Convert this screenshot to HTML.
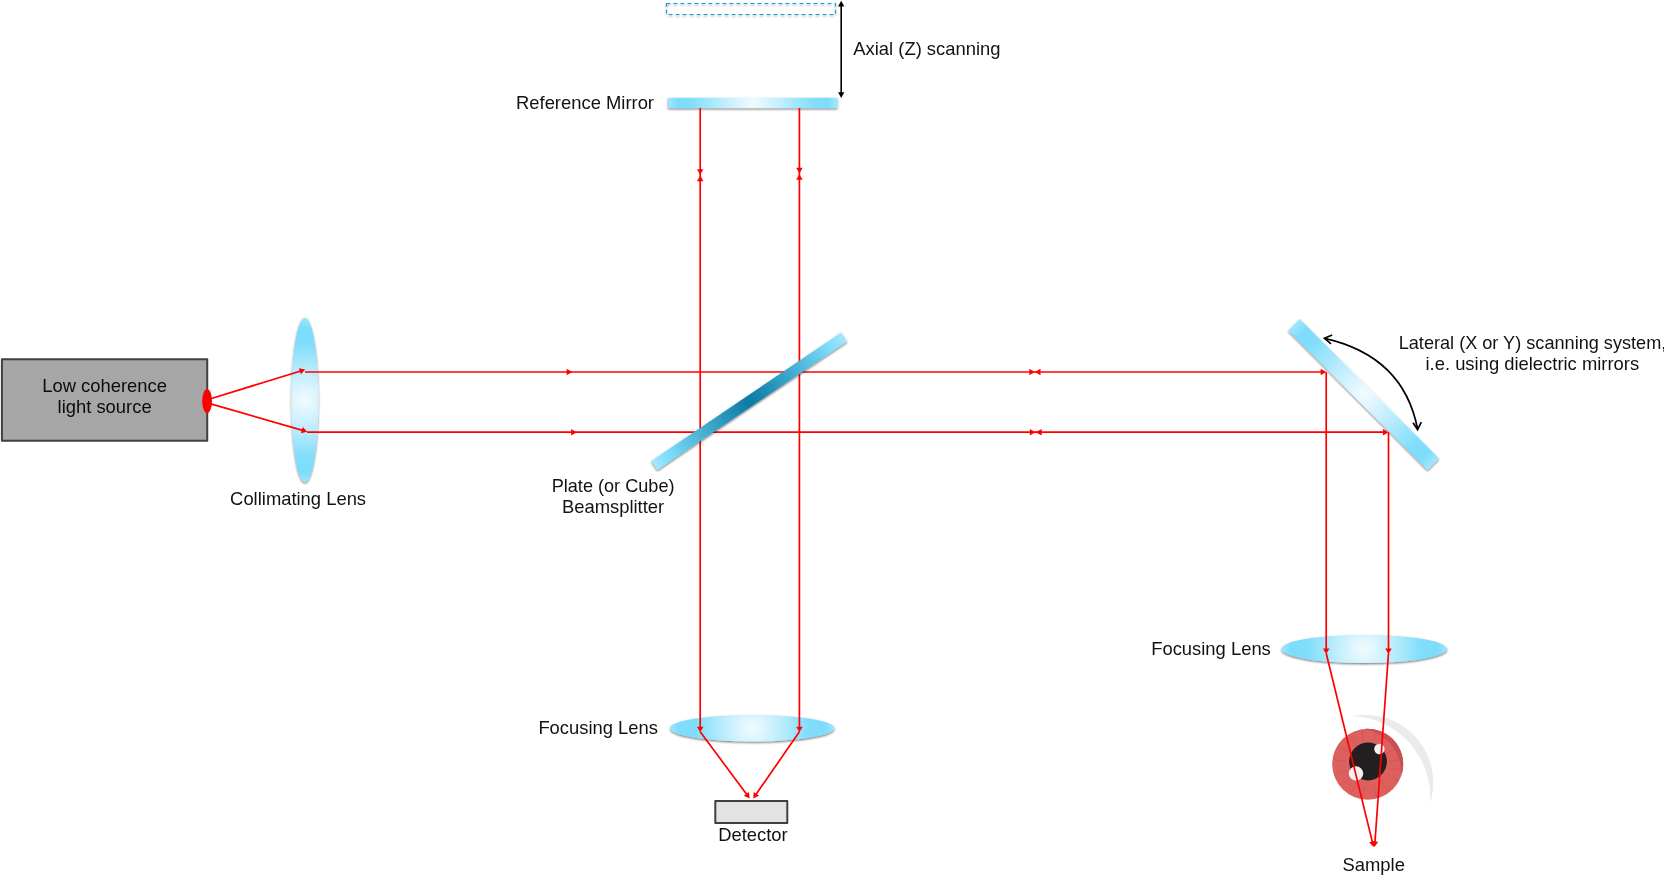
<!DOCTYPE html>
<html><head><meta charset="utf-8"><title>OCT</title>
<style>
html,body{margin:0;padding:0;background:#fff;}
body{width:1664px;height:875px;overflow:hidden;}
svg{display:block;}
text{font-family:"Liberation Sans",sans-serif;font-size:18.4px;fill:#000;}
</style></head><body>
<svg width="1664" height="875" viewBox="0 0 1664 875">
<defs>
<filter id="sh" x="-20%" y="-20%" width="140%" height="160%"><feDropShadow dx="0" dy="1.2" stdDeviation="1" flood-color="#000" flood-opacity="0.55"/></filter>
<radialGradient id="gLensV" gradientUnits="userSpaceOnUse" cx="304.9" cy="400.6" r="82"><stop offset="0" stop-color="#f2fbff"/><stop offset="0.3" stop-color="#c6effd"/><stop offset="0.68" stop-color="#82defb"/><stop offset="0.88" stop-color="#7cdcfb"/><stop offset="1" stop-color="#9de5fc"/></radialGradient>
<radialGradient id="gLensC" gradientUnits="userSpaceOnUse" cx="752.2" cy="728.2" r="82"><stop offset="0" stop-color="#f2fbff"/><stop offset="0.3" stop-color="#c6effd"/><stop offset="0.68" stop-color="#82defb"/><stop offset="0.88" stop-color="#7cdcfb"/><stop offset="1" stop-color="#9de5fc"/></radialGradient>
<radialGradient id="gLensR" gradientUnits="userSpaceOnUse" cx="1364.2" cy="649" r="83"><stop offset="0" stop-color="#f2fbff"/><stop offset="0.3" stop-color="#c6effd"/><stop offset="0.68" stop-color="#82defb"/><stop offset="0.88" stop-color="#7cdcfb"/><stop offset="1" stop-color="#9de5fc"/></radialGradient>
<radialGradient id="gRef" gradientUnits="userSpaceOnUse" cx="752.7" cy="103" r="85"><stop offset="0" stop-color="#f2fbff"/><stop offset="0.3" stop-color="#c6effd"/><stop offset="0.72" stop-color="#82defb"/><stop offset="0.88" stop-color="#7cdcfb"/><stop offset="1" stop-color="#a4e7fc"/></radialGradient>
<radialGradient id="gMir" gradientUnits="userSpaceOnUse" cx="0" cy="0" r="98.6"><stop offset="0" stop-color="#f2fbff"/><stop offset="0.3" stop-color="#c6effd"/><stop offset="0.72" stop-color="#82defb"/><stop offset="0.88" stop-color="#7cdcfb"/><stop offset="1" stop-color="#a4e7fc"/></radialGradient>
<radialGradient id="gBS" gradientUnits="userSpaceOnUse" cx="0" cy="0" r="114.6"><stop offset="0" stop-color="#0a7aa3"/><stop offset="0.4" stop-color="#3aa5ca"/><stop offset="0.84" stop-color="#7cdcfb"/><stop offset="1" stop-color="#a6e7fc"/></radialGradient>
<filter id="sh2" x="-5%" y="-50%" width="110%" height="250%"><feDropShadow dx="0" dy="1.3" stdDeviation="0.8" flood-color="#000" flood-opacity="0.45"/></filter>
</defs>
<rect width="1664" height="875" fill="#fff"/>
<!-- source box -->
<rect x="1.9" y="359.3" width="205.35" height="81.5" fill="#a6a6a6" stroke="#404040" stroke-width="2" stroke-linejoin="round"/>
<!-- dashed mirror -->
<rect x="666.5" y="3.5" width="169" height="11" fill="none" stroke="#139fdc" stroke-width="1.1" stroke-dasharray="3.9 3.1" filter="url(#sh2)"/>
<!-- lenses -->
<g filter="url(#sh)">
<ellipse cx="304.9" cy="400" rx="13.5" ry="82.3" fill="url(#gLensV)"/>
<ellipse cx="752.2" cy="728.2" rx="82.2" ry="13.3" fill="url(#gLensC)"/>
<ellipse cx="1364.2" cy="649" rx="82.8" ry="14" fill="url(#gLensR)"/>
<rect x="668" y="97.8" width="169.5" height="10.3" fill="url(#gRef)"/>
<g transform="translate(1363.6 394.45) rotate(45)"><rect x="-98.6" y="-8.15" width="197.2" height="16.3" fill="url(#gMir)"/></g>
</g>
<!-- eye -->
<g>
<path d="M1351.4 716.3 A67.8 67.8 0 0 1 1429.9 803.6 A80.5 80.5 0 0 0 1351.4 716.3Z" fill="#ebebeb"/>
<circle cx="1367.7" cy="764.2" r="35.5" fill="#dd5f5e"/>
<path d="M1364.6 728.8 A35.5 35.5 0 0 1 1401.06 776.3 A45 45 0 0 0 1364.6 728.8Z" fill="#c9504f"/>
<g stroke="#cb5554" stroke-width="0.7" opacity="0.8"><line x1="1389.5" y1="761.1" x2="1402.4" y2="759.3"/><line x1="1386.8" y1="753.2" x2="1398.0" y2="746.7"/><line x1="1381.2" y1="746.9" x2="1389.2" y2="736.6"/><line x1="1373.4" y1="742.9" x2="1376.8" y2="730.4"/><line x1="1363.9" y1="742.5" x2="1361.6" y2="729.7"/><line x1="1356.0" y1="745.5" x2="1349.2" y2="734.5"/><line x1="1349.0" y1="752.5" x2="1338.0" y2="745.7"/><line x1="1345.9" y1="761.1" x2="1333.0" y2="759.3"/><line x1="1346.6" y1="770.3" x2="1334.1" y2="773.8"/><line x1="1350.4" y1="777.7" x2="1340.1" y2="785.7"/><line x1="1356.7" y1="783.3" x2="1350.2" y2="794.5"/><line x1="1364.6" y1="786.0" x2="1362.8" y2="798.9"/><line x1="1373.4" y1="785.5" x2="1376.8" y2="798.0"/><line x1="1381.2" y1="781.5" x2="1389.2" y2="791.8"/><line x1="1387.1" y1="774.5" x2="1398.6" y2="780.6"/><line x1="1389.4" y1="768.0" x2="1402.2" y2="770.3"/></g>
<circle cx="1368" cy="761.5" r="18.9" fill="#231f20"/>
<circle cx="1379.4" cy="749" r="5.2" fill="#f1f2f2"/>
<circle cx="1356" cy="773.5" r="7.2" fill="#f1f2f2"/>
</g>
<!-- red -->
<ellipse cx="207.1" cy="401" rx="4.9" ry="12.1" fill="#ff0000"/>
<line x1="209.00" y1="399.20" x2="302.33" y2="370.48" stroke="#ff0000" stroke-width="1.7"/><polygon points="305.20,369.60 300.80,374.35 298.89,368.14" fill="#ff0000"/>
<line x1="209.00" y1="403.40" x2="304.32" y2="430.87" stroke="#ff0000" stroke-width="1.7"/><polygon points="307.20,431.70 300.92,433.27 302.72,427.03" fill="#ff0000"/>
<line x1="305.00" y1="372.00" x2="1323.20" y2="372.00" stroke="#ff0000" stroke-width="1.7"/>
<line x1="307.00" y1="432.20" x2="1385.50" y2="432.20" stroke="#ff0000" stroke-width="1.7"/>
<polygon points="572.20,372.00 566.60,375.25 566.60,368.75" fill="#ff0000"/>
<polygon points="576.70,432.20 571.10,435.45 571.10,428.95" fill="#ff0000"/>
<polygon points="1034.90,372.00 1029.30,375.25 1029.30,368.75" fill="#ff0000"/>
<polygon points="1034.90,372.00 1040.50,368.75 1040.50,375.25" fill="#ff0000"/>
<polygon points="1035.40,432.20 1029.80,435.45 1029.80,428.95" fill="#ff0000"/>
<polygon points="1035.40,432.20 1041.70,428.95 1041.70,435.45" fill="#ff0000"/>
<polygon points="1326.20,372.00 1320.60,375.25 1320.60,368.75" fill="#ff0000"/>
<polygon points="1388.50,432.20 1382.90,435.45 1382.90,428.95" fill="#ff0000"/>
<line x1="700.20" y1="108.00" x2="700.20" y2="730.00" stroke="#ff0000" stroke-width="1.7"/>
<line x1="799.40" y1="108.00" x2="799.40" y2="730.00" stroke="#ff0000" stroke-width="1.7"/>
<polygon points="700.20,174.80 696.95,169.20 703.45,169.20" fill="#ff0000"/>
<polygon points="700.20,175.60 703.45,181.20 696.95,181.20" fill="#ff0000"/>
<polygon points="799.40,173.40 796.15,167.80 802.65,167.80" fill="#ff0000"/>
<polygon points="799.40,174.20 802.65,179.80 796.15,179.80" fill="#ff0000"/>
<polygon points="700.20,732.30 696.95,726.70 703.45,726.70" fill="#ff0000"/>
<polygon points="799.40,732.30 796.15,726.70 802.65,726.70" fill="#ff0000"/>
<line x1="700.20" y1="731.80" x2="747.91" y2="795.99" stroke="#ff0000" stroke-width="1.7"/><polygon points="749.70,798.40 743.75,795.84 748.97,791.97" fill="#ff0000"/>
<line x1="799.40" y1="731.80" x2="754.91" y2="795.94" stroke="#ff0000" stroke-width="1.7"/><polygon points="753.20,798.40 753.72,791.95 759.06,795.65" fill="#ff0000"/>
<line x1="1326.20" y1="372.00" x2="1326.20" y2="652.00" stroke="#ff0000" stroke-width="1.7"/>
<line x1="1388.50" y1="432.20" x2="1388.50" y2="652.00" stroke="#ff0000" stroke-width="1.7"/>
<polygon points="1326.20,654.00 1322.95,648.40 1329.45,648.40" fill="#ff0000"/>
<polygon points="1388.50,654.00 1385.25,648.40 1391.75,648.40" fill="#ff0000"/>
<line x1="1326.20" y1="653.30" x2="1372.89" y2="844.09" stroke="#ff0000" stroke-width="1.7"/><polygon points="1373.60,847.00 1369.11,842.33 1375.43,840.79" fill="#ff0000"/>
<line x1="1388.50" y1="653.30" x2="1374.81" y2="844.01" stroke="#ff0000" stroke-width="1.7"/><polygon points="1374.60,847.00 1371.76,841.18 1378.24,841.65" fill="#ff0000"/>
<!-- beamsplitter on top -->
<g filter="url(#sh)"><g transform="translate(749.2 401.3) rotate(-34.13)"><rect x="-114.6" y="-5.45" width="229.2" height="10.9" fill="url(#gBS)"/></g></g>
<!-- detector -->
<rect x="715.3" y="800.9" width="72" height="22" fill="#e3e3e3" stroke="#404040" stroke-width="2" stroke-linejoin="round"/>
<line x1="841.20" y1="5.00" x2="841.20" y2="93.00" stroke="#000" stroke-width="1.6"/>
<polygon points="841.20,0.80 844.30,6.60 838.10,6.60" fill="#000"/>
<polygon points="841.20,98.00 838.10,92.20 844.30,92.20" fill="#000"/>
<!-- arc arrow -->
<path d="M1324.5 338.3 Q1403.5 356 1417.6 429" fill="none" stroke="#000" stroke-width="1.7"/>
<polyline points="1332.2,335 1324.5,338.3 1331,343.8" fill="none" stroke="#000" stroke-width="1.7" stroke-linejoin="miter"/>
<polyline points="1413,422.8 1417.6,429.6 1421.3,422.2" fill="none" stroke="#000" stroke-width="1.7" stroke-linejoin="miter"/>
<g opacity="0.93">
<text x="104.6" y="391.9" text-anchor="middle">Low coherence</text>
<text x="104.6" y="412.6" text-anchor="middle">light source</text>
<text x="298.1" y="505.0" text-anchor="middle">Collimating Lens</text>
<text x="585.0" y="108.7" text-anchor="middle">Reference Mirror</text>
<text x="926.9" y="55.0" text-anchor="middle">Axial (Z) scanning</text>
<text x="613.1" y="491.9" text-anchor="middle" textLength="122.8" lengthAdjust="spacingAndGlyphs">Plate (or Cube)</text>
<text x="613.1" y="512.6" text-anchor="middle">Beamsplitter</text>
<text x="598.2" y="733.8" text-anchor="middle">Focusing Lens</text>
<text x="1211.0" y="654.8" text-anchor="middle">Focusing Lens</text>
<text x="752.9" y="841.1" text-anchor="middle">Detector</text>
<text x="1373.7" y="871.3" text-anchor="middle">Sample</text>
<text x="1398.7" y="348.9" text-anchor="start" textLength="267.6" lengthAdjust="spacingAndGlyphs">Lateral (X or Y) scanning system,</text>
<text x="1532.3" y="369.8" text-anchor="middle">i.e. using dielectric mirrors</text>
</g>
</svg>
</body></html>
